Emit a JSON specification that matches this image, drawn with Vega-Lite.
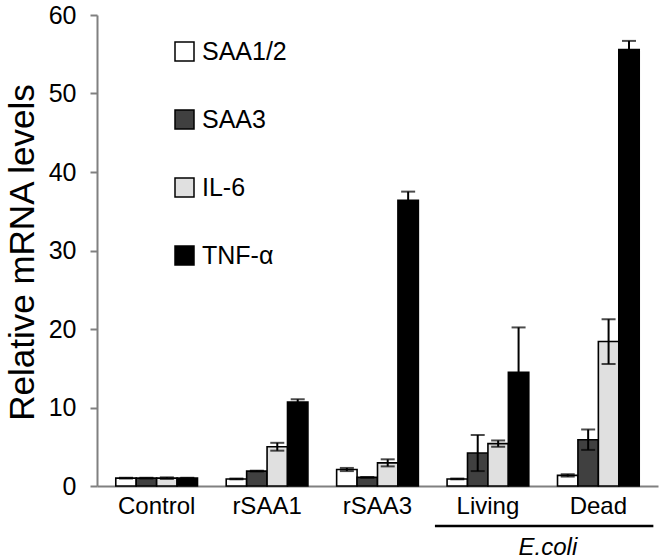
{
  "$schema": "https://vega.github.io/schema/vega-lite/v6.json",
  "width": 561,
  "height": 471,
  "autosize": {"type": "none"},
  "padding": {"left": 97, "top": 15, "right": 3, "bottom": 74},
  "background": "white",
  "config": {"font": "Liberation Sans", "view": {"stroke": null}},
  "data": {
    "values": [
      {"group": "Control", "gene": "SAA1/2", "value": 1.0, "lo": 0.95, "hi": 1.05},
      {"group": "Control", "gene": "SAA3", "value": 1.0, "lo": 0.95, "hi": 1.05},
      {"group": "Control", "gene": "IL-6", "value": 1.0, "lo": 0.9, "hi": 1.1},
      {"group": "Control", "gene": "TNF-α", "value": 1.0, "lo": 0.95, "hi": 1.05},
      {"group": "rSAA1", "gene": "SAA1/2", "value": 0.9, "lo": 0.85, "hi": 0.95},
      {"group": "rSAA1", "gene": "SAA3", "value": 1.9, "lo": 1.85, "hi": 1.95},
      {"group": "rSAA1", "gene": "IL-6", "value": 5.0, "lo": 4.5, "hi": 5.5},
      {"group": "rSAA1", "gene": "TNF-α", "value": 10.7, "lo": 10.35, "hi": 11.05},
      {"group": "rSAA3", "gene": "SAA1/2", "value": 2.1, "lo": 1.9, "hi": 2.3},
      {"group": "rSAA3", "gene": "SAA3", "value": 1.1, "lo": 1.05, "hi": 1.15},
      {"group": "rSAA3", "gene": "IL-6", "value": 2.95, "lo": 2.5, "hi": 3.4},
      {"group": "rSAA3", "gene": "TNF-α", "value": 36.4, "lo": 35.3, "hi": 37.5},
      {"group": "Living", "gene": "SAA1/2", "value": 0.9, "lo": 0.85, "hi": 0.95},
      {"group": "Living", "gene": "SAA3", "value": 4.2, "lo": 1.9, "hi": 6.5},
      {"group": "Living", "gene": "IL-6", "value": 5.4, "lo": 5.0, "hi": 5.8},
      {"group": "Living", "gene": "TNF-α", "value": 14.5, "lo": 8.8, "hi": 20.2},
      {"group": "Dead", "gene": "SAA1/2", "value": 1.35, "lo": 1.2, "hi": 1.5},
      {"group": "Dead", "gene": "SAA3", "value": 5.9, "lo": 4.6, "hi": 7.2},
      {"group": "Dead", "gene": "IL-6", "value": 18.4, "lo": 15.55, "hi": 21.25},
      {"group": "Dead", "gene": "TNF-α", "value": 55.6, "lo": 54.5, "hi": 56.7}
    ]
  },
  "encoding": {
    "x": {
      "field": "group",
      "type": "nominal",
      "scale": {"domain": ["Control", "rSAA1", "rSAA3", "Living", "Dead"], "paddingInner": 0.26, "paddingOuter": 0.17},
      "axis": {
        "title": null,
        "labelAngle": 0,
        "labelFontSize": 24,
        "labelColor": "black",
        "labelPadding": 8,
        "ticks": false,
        "domainColor": "#808080",
        "domainWidth": 2
      }
    }
  },
  "layer": [
    {
      "mark": {"type": "bar", "stroke": "black", "strokeWidth": 1.6},
      "encoding": {
        "xOffset": {
          "field": "gene",
          "type": "nominal",
          "scale": {"domain": ["SAA1/2", "SAA3", "IL-6", "TNF-α"], "paddingInner": 0, "paddingOuter": 0}
        },
        "y": {
          "field": "value",
          "type": "quantitative",
          "scale": {"domain": [0, 60], "nice": false},
          "axis": {
            "values": [0, 10, 20, 30, 40, 50, 60],
            "grid": false,
            "labelFontSize": 25,
            "labelColor": "black",
            "labelPadding": 14,
            "tickSize": 7,
            "tickColor": "#808080",
            "tickWidth": 2,
            "domainColor": "#808080",
            "domainWidth": 2,
            "title": "Relative mRNA levels",
            "titleFontSize": 35,
            "titleFontWeight": "normal",
            "titleColor": "black",
            "titleAngle": 270,
            "titleAlign": "center",
            "titleBaseline": "alphabetic",
            "titleX": -64,
            "titleY": 237
          }
        },
        "fill": {
          "field": "gene",
          "type": "nominal",
          "scale": {
            "domain": ["SAA1/2", "SAA3", "IL-6", "TNF-α"],
            "range": ["#ffffff", "#404040", "#e0e0e0", "#000000"]
          },
          "legend": {
            "title": null,
            "orient": "none",
            "legendX": 75,
            "legendY": 24,
            "symbolType": "square",
            "symbolSize": 361,
            "symbolStrokeColor": "black",
            "symbolStrokeWidth": 1.5,
            "symbolOpacity": 1,
            "labelFontSize": 25,
            "labelColor": "black",
            "labelOffset": 5,
            "rowPadding": 42
          }
        }
      }
    },
    {
      "mark": {"type": "rule", "color": "black", "strokeWidth": 2},
      "encoding": {
        "xOffset": {"field": "gene", "type": "nominal"},
        "y": {"field": "lo", "type": "quantitative"},
        "y2": {"field": "hi"}
      }
    },
    {
      "mark": {"type": "tick", "color": "black", "thickness": 2, "size": 14},
      "encoding": {
        "xOffset": {"field": "gene", "type": "nominal"},
        "y": {"field": "hi", "type": "quantitative"}
      }
    },
    {
      "mark": {"type": "tick", "color": "black", "thickness": 2, "size": 14},
      "encoding": {
        "xOffset": {"field": "gene", "type": "nominal"},
        "y": {"field": "lo", "type": "quantitative"}
      }
    },
    {
      "data": {"values": [{"group": "Living", "to": "Dead", "label": "E.coli"}]},
      "mark": {"type": "rule", "color": "black", "strokeWidth": 2.5, "xOffset": -53, "x2Offset": 55},
      "encoding": {
        "x2": {"field": "to"},
        "y": {"datum": -5.1, "type": "quantitative"}
      }
    },
    {
      "data": {"values": [{"group": "Living", "to": "Dead", "label": "E.coli"}]},
      "mark": {"type": "text", "fontSize": 24, "fontStyle": "italic", "color": "black", "baseline": "alphabetic", "align": "center", "dx": 60},
      "encoding": {
        "text": {"field": "label"},
        "y": {"datum": -8.8, "type": "quantitative"}
      }
    }
  ]
}
